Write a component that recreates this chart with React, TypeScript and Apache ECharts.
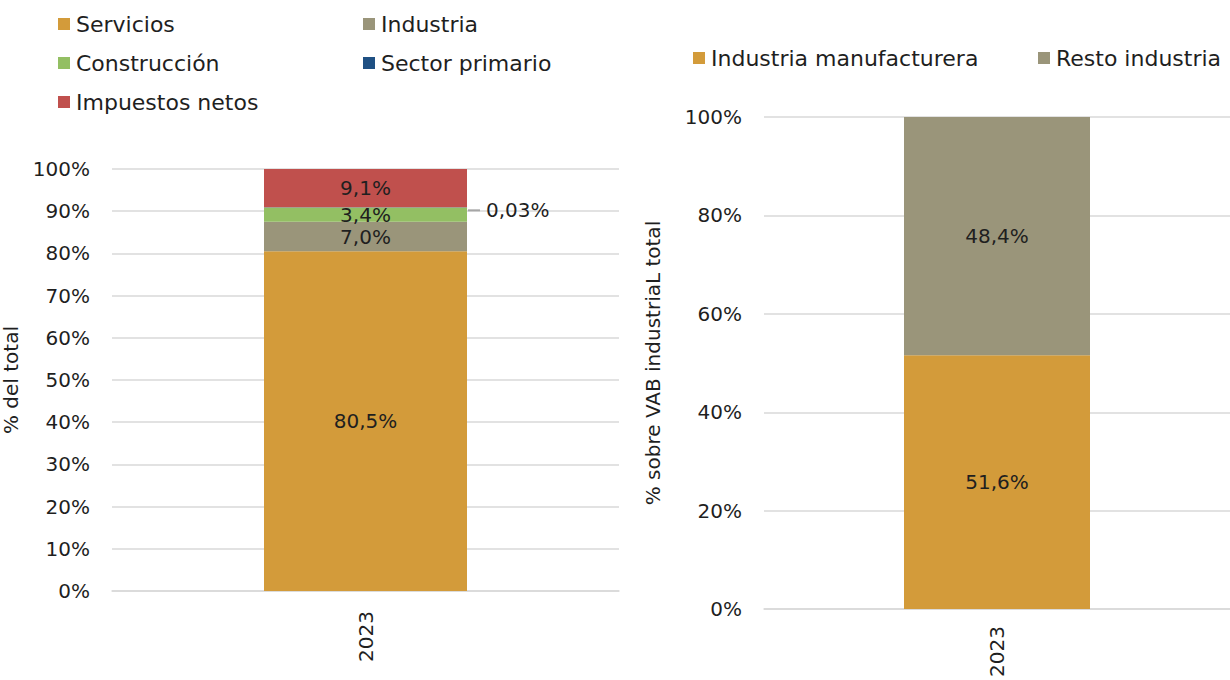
import React, { useEffect, useRef } from "react";
import * as echarts from "echarts";

const years = ["2023"];
const leftSeriesNames = ["Servicios", "Industria", "Construcción", "Sector primario", "Impuestos netos"];
const leftValues = [80.5, 7.0, 3.4, 0.03, 9.1];
const leftLabels = ["80,5%", "7,0%", "3,4%", "0,03%", "9,1%"];
const leftColors = ["#D39B3A", "#9A957A", "#93BF63", "#1F5083", "#C0504D"];

const rightSeriesNames = ["Industria manufacturera", "Resto industria"];
const rightValues = [51.6, 48.4];
const rightLabels = ["51,6%", "48,4%"];
const rightColors = ["#D39B3A", "#9A957A"];

const FONT = "'DejaVu Sans', 'Open Sans', sans-serif";

export default function App() {
  const ref = useRef<HTMLDivElement>(null);
  useEffect(() => {
    if (!ref.current) return;
    const chart = echarts.init(ref.current, null, { renderer: "svg" });

    const legendPos = [
      { left: 58, top: 13 },
      { left: 363, top: 13 },
      { left: 58, top: 52 },
      { left: 363, top: 52 },
      { left: 58, top: 91 },
    ];
    const rightLegendPos = [
      { left: 693, top: 47 },
      { left: 1038, top: 47 },
    ];
    const legendCommon = {
      itemWidth: 12,
      itemHeight: 12,
      icon: "rect",
      selectedMode: false,
      padding: 0,
      textStyle: { fontFamily: FONT, fontSize: 22, color: "#1F1F1F", padding: [0, 0, 0, 1] },
    };

    const legends: any[] = [];
    leftSeriesNames.forEach((n, i) => legends.push({ ...legendCommon, data: [n], ...legendPos[i] }));
    rightSeriesNames.forEach((n, i) => legends.push({ ...legendCommon, data: [n], ...rightLegendPos[i] }));

    const yAxisCommon = {
      type: "value",
      min: 0,
      max: 100,
      nameLocation: "middle",
      nameTextStyle: { fontFamily: FONT, fontSize: 20, color: "#1F1F1F" },
      axisLine: { show: false },
      axisTick: { show: false },
      splitLine: { lineStyle: { color: "#D9D9D9", width: 1.5 } },
      axisLabel: { fontFamily: FONT, fontSize: 20, color: "#1F1F1F", formatter: "{value}%", margin: 22 },
    };
    const xAxisCommon = {
      type: "category",
      data: years,
      axisLine: { lineStyle: { color: "#D9D9D9", width: 1.5 } },
      axisTick: { show: false },
      axisLabel: { fontFamily: FONT, fontSize: 20, color: "#1F1F1F", rotate: 90 },
    };

    const labelCommon = { fontFamily: FONT, fontSize: 20, color: "#1F1F1F" };

    const series: any[] = [];
    leftSeriesNames.forEach((n, i) => {
      const isSmall = i === 3;
      series.push({
        name: n,
        type: "bar",
        stack: "left",
        xAxisIndex: 0,
        yAxisIndex: 0,
        barWidth: 203,
        itemStyle: { color: leftColors[i] },
        data: [leftValues[i]],
        label: isSmall
          ? {
              show: true,
              position: "right",
              distance: 1,
              offset: [0, 3],
              formatter: () => "{l|}{t|" + leftLabels[i] + "}",
              rich: {
                l: { width: 12, height: 2, backgroundColor: "#A6A6A6" },
                t: { ...labelCommon, padding: [0, 0, 0, 6] },
              },
            }
          : { show: true, position: "inside", ...labelCommon, formatter: () => leftLabels[i] },
      });
    });
    rightSeriesNames.forEach((n, i) => {
      series.push({
        name: n,
        type: "bar",
        stack: "right",
        xAxisIndex: 1,
        yAxisIndex: 1,
        barWidth: 186,
        itemStyle: { color: rightColors[i] },
        data: [rightValues[i]],
        label: { show: true, position: "inside", ...labelCommon, formatter: () => rightLabels[i] },
      });
    });

    chart.setOption({
      animation: false,
      backgroundColor: "#FFFFFF",
      legend: legends,
      grid: [
        { left: 111, width: 508, top: 169, height: 422 },
        { left: 764, width: 466, top: 117, height: 494 },
      ],
      xAxis: [
        { ...xAxisCommon, gridIndex: 0, axisLabel: { ...xAxisCommon.axisLabel, margin: 20 } },
        { ...xAxisCommon, gridIndex: 1, axisLabel: { ...xAxisCommon.axisLabel, margin: 17 } },
      ],
      yAxis: [
        { ...yAxisCommon, gridIndex: 0, interval: 10, name: "% del total", nameGap: 91 },
        { ...yAxisCommon, gridIndex: 1, interval: 20, name: "% sobre VAB industriaL total", nameGap: 101 },
      ],
      series,
    });
    return () => chart.dispose();
  }, []);
  return <div ref={ref} style={{ width: 1230, height: 680, position: "absolute", left: 0, top: 0 }} />;
}
